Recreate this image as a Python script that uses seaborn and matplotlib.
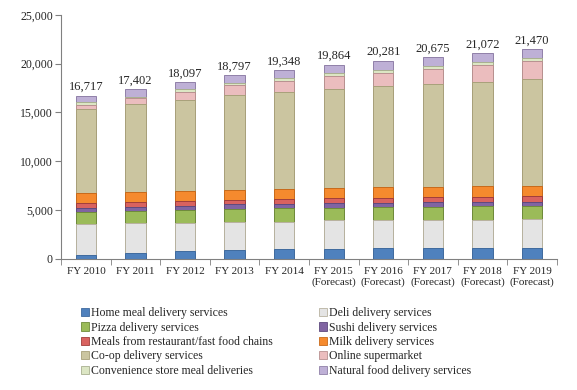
import numpy as np
import pandas as pd
import matplotlib
matplotlib.use("Agg")
import matplotlib.pyplot as plt
import seaborn as sns
from matplotlib.ticker import FuncFormatter, FixedLocator
from matplotlib.patches import Patch

years = ["FY 2010", "FY 2011", "FY 2012", "FY 2013", "FY 2014",
         "FY 2015\n(Forecast)", "FY 2016\n(Forecast)", "FY 2017\n(Forecast)",
         "FY 2018\n(Forecast)", "FY 2019\n(Forecast)"]
totals = [16717, 17402, 18097, 18797, 19348, 19864, 20281, 20675, 21072, 21470]

home_meal   = [410, 580, 820, 920, 990, 1020, 1090, 1090, 1160, 1160]
deli        = [3140, 3070, 2900, 2910, 2840, 2980, 2910, 2910, 2840, 2900]
pizza       = [1300, 1270, 1300, 1290, 1360, 1260, 1330, 1360, 1400, 1370]
sushi       = [410, 440, 410, 480, 480, 440, 440, 440, 470, 440]
restaurant  = [510, 480, 510, 480, 510, 520, 510, 520, 520, 620]
milk        = [1030, 1020, 1030, 990, 990, 1050, 1060, 1090, 1090, 1020]
coop        = [8530, 9020, 9320, 9730, 9970, 10110, 10320, 10490, 10690, 10900]
online      = [470, 580, 850, 990, 1130, 1370, 1430, 1600, 1740, 1910]
convenience = [250, 170, 240, 210, 240, 270, 270, 270, 270, 240]
natural     = [667, 772, 717, 797, 838, 844, 921, 905, 892, 910]

names = ["Home meal delivery services", "Deli delivery services",
         "Pizza delivery services", "Sushi delivery services",
         "Meals from restaurant/fast food chains", "Milk delivery services",
         "Co-op delivery services", "Online supermarket",
         "Convenience store meal deliveries", "Natural food delivery services"]
series = [home_meal, deli, pizza, sushi, restaurant, milk, coop, online,
          convenience, natural]
colors = ["#4F81BD", "#E4E4E4", "#9BBB59", "#8064A2", "#D9625F", "#F58A2E",
          "#CBC5A0", "#EBBDBE", "#DCE6C4", "#BEB0D6"]
edges = ["#3F6A9E", "#B8B2A0", "#6F8B3A", "#5E4A7E", "#A03E3B", "#C86A1A",
         "#A8A07A", "#B89090", "#A8B090", "#9080A8"]

sns.set_style("white")
plt.rcParams["font.family"] = ["Liberation Serif", "DejaVu Serif"]

fig = plt.figure(figsize=(5.77, 3.90), dpi=100)
ax = fig.add_axes([0.106, 0.336, 0.859, 0.626])

cum = np.cumsum(np.array(series, dtype=float), axis=0)
for i in range(len(series) - 1, -1, -1):
    df = pd.DataFrame({"year": years, "value": cum[i]})
    sns.barplot(data=df, x="year", y="value", color=colors[i], width=0.41,
                edgecolor=edges[i], linewidth=0.7, ax=ax, saturation=1)

# labels on top of full stacks (the first drawn container is the total)
top_container = ax.containers[0]
ax.bar_label(top_container, labels=[f"{t:,}" for t in totals], padding=2,
             fontsize=9)

ax.set_ylim(0, 25000)
ax.set_xlim(-0.5, len(years) - 0.5)
ax.set_yticks(np.arange(0, 25001, 5000))
ax.yaxis.set_major_formatter(FuncFormatter(lambda v, p: f"{int(v):,}"))
ax.set_xlabel("")
ax.set_ylabel("")
ax.tick_params(axis="y", labelsize=8.5, length=4, color="#808080",
               direction="out", left=True, pad=2)
ax.tick_params(axis="x", which="major", labelsize=8, length=0, pad=6)
ax.xaxis.set_minor_locator(FixedLocator(np.arange(-0.5, len(years), 1.0)))
ax.tick_params(axis="x", which="minor", length=4, color="#808080",
               direction="out", bottom=True)
for s in ["top", "right"]:
    ax.spines[s].set_visible(False)
for s in ["left", "bottom"]:
    ax.spines[s].set_color("#808080")
    ax.spines[s].set_linewidth(0.8)

order = [0, 2, 4, 6, 8, 1, 3, 5, 7, 9]
leg_handles = [Patch(facecolor=colors[i], edgecolor=edges[i], linewidth=0.6)
               for i in order]
fig.legend(leg_handles, [names[i] for i in order], ncol=2, loc="upper left",
           bbox_to_anchor=(0.140, 0.212), frameon=False, fontsize=8.5,
           handlelength=0.7, handleheight=0.7, handletextpad=0.15,
           columnspacing=3.9, labelspacing=0.2, borderaxespad=0, borderpad=0)

fig.savefig("out.png", dpi=100)
